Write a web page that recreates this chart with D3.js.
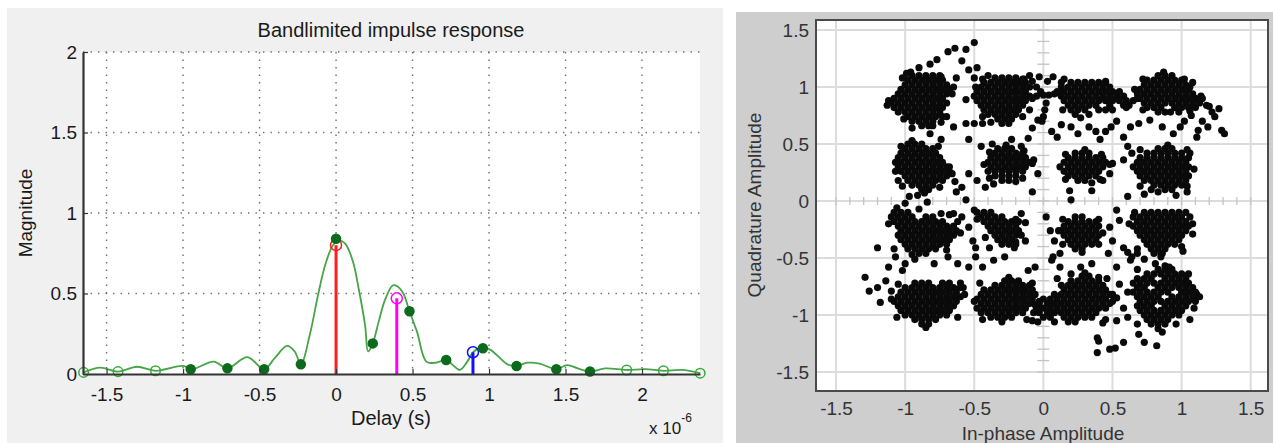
<!DOCTYPE html>
<html>
<head>
<meta charset="utf-8">
<script src="https://cdn.jsdelivr.net/npm/d3@7"></script>
<style>
  body { margin: 0; background: #fff; }
  text { font-family: "Liberation Sans", Arial, sans-serif; }
</style>
</head>
<body>
<div id="chart"></div>
<script>
// ---------- left chart data (delay in units of 1e-6 s) ----------
const curveDelay = [-1.65, -1.54, -1.425, -1.3, -1.18, -1.0, -0.94, -0.8, -0.71, -0.58, -0.47,
  -0.4, -0.32, -0.27, -0.23, -0.17, -0.12, -0.07, -0.02, 0.02, 0.06, 0.11, 0.15, 0.19, 0.21,
  0.24, 0.28, 0.32, 0.37, 0.4, 0.44, 0.48, 0.53, 0.59, 0.65, 0.72, 0.77, 0.81, 0.86, 0.9,
  0.96, 1.01, 1.07, 1.12, 1.18, 1.25, 1.33, 1.44, 1.51, 1.58, 1.66, 1.76, 1.9, 2.02, 2.14,
  2.26, 2.38];
const curveMag = [0.01, 0.04, 0.015, 0.045, 0.02, 0.05, 0.03, 0.077, 0.035, 0.105, 0.03,
  0.1, 0.175, 0.14, 0.06, 0.25, 0.48, 0.68, 0.8, 0.83, 0.81, 0.7, 0.52, 0.3, 0.14,
  0.19, 0.33, 0.46, 0.55, 0.545, 0.5, 0.39, 0.26, 0.077, 0.07, 0.087, 0.05, 0.025, 0.08, 0.14,
  0.165, 0.15, 0.1, 0.06, 0.05, 0.07, 0.065, 0.03, 0.055, 0.035, 0.015, 0.035, 0.025, 0.03, 0.02,
  0.025, 0.005];

// sampled taps on the curve
const sampleDelay = [-1.65, -1.425, -1.18, -0.95, -0.71, -0.47, -0.23, 0, 0.24, 0.48, 0.72,
  0.96, 1.18, 1.44, 1.66, 1.9, 2.14, 2.38];
const sampleMag = [0.01, 0.015, 0.02, 0.03, 0.035, 0.03, 0.06, 0.84, 0.19, 0.39, 0.087,
  0.16, 0.05, 0.03, 0.015, 0.025, 0.02, 0.005];
const sampleFilled = [false, false, false, true, true, true, true, true, true, true, true,
  true, true, true, true, false, false, false];

// multipath stems
const stemDelay = [0, 0.397, 0.895];
const stemMag = [0.8, 0.47, 0.135];

const magTicks = [0, 0.5, 1, 1.5, 2];
const delayTicks = [-1.5, -1, -0.5, 0, 0.5, 1, 1.5, 2];

// ---------- right chart data: constellation rows [quadrature, [in-phase...]] ----------
const clusterA = [[1.10, [-0.95, -0.90, -0.85, -0.80]], [1.06, [-0.98, -0.93, -0.88, -0.83, -0.78, -0.73]],
  [1.02, [-1.00, -0.95, -0.90, -0.85, -0.80, -0.75, -0.70]], [0.98, [-1.03, -0.98, -0.93, -0.88, -0.83, -0.78, -0.73, -0.68]],
  [0.94, [-1.05, -1.00, -0.95, -0.90, -0.85, -0.80, -0.75, -0.70]], [0.90, [-1.08, -1.03, -0.98, -0.93, -0.88, -0.83, -0.78, -0.73]],
  [0.86, [-1.10, -1.05, -1.00, -0.95, -0.90, -0.85, -0.80, -0.75, -0.70]], [0.82, [-1.08, -1.03, -0.98, -0.93, -0.88, -0.83, -0.78, -0.73]],
  [0.78, [-1.05, -1.00, -0.95, -0.90, -0.85, -0.80, -0.75]], [0.74, [-0.98, -0.93, -0.88, -0.83, -0.78, -0.73]],
  [0.70, [-0.95, -0.90, -0.85, -0.80]], [0.66, [-0.88, -0.83]]];
const clusterB = [[1.08, [-0.35, -0.30, -0.25, -0.20]], [1.04, [-0.43, -0.38, -0.33, -0.28, -0.23, -0.18, -0.13]],
  [1.00, [-0.45, -0.40, -0.35, -0.30, -0.25, -0.20, -0.15, -0.10]], [0.96, [-0.48, -0.43, -0.38, -0.33, -0.28, -0.23, -0.18, -0.13]],
  [0.92, [-0.45, -0.40, -0.35, -0.30, -0.25, -0.20, -0.15, -0.10]], [0.88, [-0.48, -0.43, -0.38, -0.33, -0.28, -0.23, -0.18, -0.13]],
  [0.84, [-0.45, -0.40, -0.35, -0.30, -0.25, -0.20, -0.15]], [0.80, [-0.43, -0.38, -0.33, -0.28, -0.23, -0.18]],
  [0.76, [-0.40, -0.35, -0.30, -0.25, -0.20]], [0.72, [-0.33, -0.28, -0.23]], [0.68, [-0.30, -0.25]]];
const clusterC = [[1.04, [0.20, 0.25, 0.30, 0.35, 0.40]], [1.00, [0.13, 0.18, 0.23, 0.28, 0.33, 0.38, 0.43, 0.48]],
  [0.96, [0.15, 0.20, 0.25, 0.30, 0.35, 0.40, 0.45, 0.50, 0.55]], [0.92, [0.13, 0.18, 0.23, 0.28, 0.33, 0.38, 0.43, 0.48, 0.53, 0.58]],
  [0.88, [0.15, 0.20, 0.25, 0.30, 0.35, 0.40, 0.45, 0.50, 0.55, 0.60, 0.65]], [0.84, [0.18, 0.23, 0.28, 0.33, 0.38, 0.48, 0.58]],
  [0.80, [0.20, 0.25, 0.30, 0.40, 0.50]], [0.76, [0.23, 0.33]]];
const clusterD = [[1.10, [0.83, 0.88, 0.93]], [1.06, [0.75, 0.80, 0.85, 0.90, 0.95, 1.00]],
  [1.02, [0.73, 0.78, 0.83, 0.88, 0.93, 0.98, 1.03]], [0.98, [0.70, 0.75, 0.80, 0.85, 0.90, 0.95, 1.00, 1.05]],
  [0.94, [0.68, 0.73, 0.78, 0.83, 0.88, 0.93, 0.98, 1.03, 1.08]], [0.90, [0.70, 0.75, 0.80, 0.85, 0.90, 0.95, 1.00, 1.05, 1.10]],
  [0.86, [0.73, 0.78, 0.83, 0.88, 0.93, 0.98, 1.03, 1.08, 1.13]], [0.82, [0.75, 0.80, 0.85, 0.95, 1.00, 1.05, 1.10]],
  [0.78, [0.83, 0.88, 0.98]]];
const clusterE = [[0.50, [-0.98, -0.93, -0.88]], [0.46, [-1.00, -0.95, -0.90, -0.85, -0.80]],
  [0.42, [-1.03, -0.98, -0.93, -0.88, -0.83, -0.78]], [0.38, [-1.05, -1.00, -0.95, -0.90, -0.85, -0.80, -0.75]],
  [0.34, [-1.03, -0.98, -0.93, -0.88, -0.83, -0.78, -0.73]], [0.30, [-1.05, -1.00, -0.95, -0.90, -0.85, -0.80, -0.75, -0.70]],
  [0.26, [-1.03, -0.98, -0.93, -0.88, -0.83, -0.78, -0.73, -0.68]], [0.22, [-1.00, -0.95, -0.90, -0.85, -0.80, -0.75, -0.70]],
  [0.18, [-0.98, -0.93, -0.88, -0.83, -0.78, -0.73]], [0.14, [-0.95, -0.90, -0.85, -0.80]], [0.10, [-0.88, -0.83]]];
const clusterF = [[0.46, [-0.33, -0.28, -0.23]], [0.42, [-0.35, -0.30, -0.25, -0.20, -0.15]],
  [0.38, [-0.38, -0.33, -0.28, -0.23, -0.18, -0.13]], [0.34, [-0.40, -0.35, -0.30, -0.25, -0.20, -0.15, -0.10]],
  [0.30, [-0.38, -0.33, -0.28, -0.23, -0.18, -0.13]], [0.26, [-0.40, -0.35, -0.30, -0.25, -0.20, -0.15]],
  [0.22, [-0.35, -0.30, -0.25, -0.20]], [0.18, [-0.30, -0.25]]];
const clusterG = [[0.42, [0.23, 0.28, 0.33]], [0.38, [0.18, 0.23, 0.28, 0.33, 0.38, 0.43]],
  [0.34, [0.15, 0.20, 0.25, 0.30, 0.35, 0.40, 0.45]], [0.30, [0.18, 0.23, 0.28, 0.33, 0.38, 0.43]],
  [0.26, [0.15, 0.20, 0.25, 0.30, 0.35, 0.40]], [0.22, [0.18, 0.23, 0.28, 0.33, 0.38]], [0.18, [0.25, 0.30]]];
const clusterH = [[0.46, [0.83, 0.88, 0.93]], [0.42, [0.75, 0.80, 0.85, 0.90, 0.95, 1.00]],
  [0.38, [0.70, 0.75, 0.80, 0.85, 0.90, 0.95, 1.00, 1.05]], [0.34, [0.68, 0.73, 0.78, 0.83, 0.88, 0.93, 0.98, 1.03]],
  [0.30, [0.70, 0.75, 0.80, 0.85, 0.90, 0.95, 1.00, 1.05]], [0.26, [0.68, 0.73, 0.78, 0.83, 0.88, 0.93, 0.98, 1.03]],
  [0.22, [0.70, 0.75, 0.80, 0.85, 0.90, 0.95, 1.00, 1.05]], [0.18, [0.73, 0.78, 0.83, 0.88, 0.93, 0.98, 1.03]],
  [0.14, [0.80, 0.85, 0.90, 0.95, 1.00]], [0.10, [0.88, 0.93]]];
const clusterI = [[-0.10, [-1.08, -1.03, -0.98]], [-0.14, [-1.10, -1.05, -1.00, -0.95, -0.85, -0.80]],
  [-0.18, [-1.08, -1.03, -0.98, -0.93, -0.88, -0.83, -0.78, -0.73]], [-0.22, [-1.05, -1.00, -0.95, -0.90, -0.85, -0.80, -0.75, -0.70, -0.65]],
  [-0.26, [-1.03, -0.98, -0.93, -0.88, -0.83, -0.78, -0.73, -0.68, -0.63]], [-0.30, [-1.05, -1.00, -0.95, -0.90, -0.85, -0.80, -0.75, -0.70, -0.65]],
  [-0.34, [-1.03, -0.98, -0.93, -0.88, -0.83, -0.78, -0.73, -0.68]], [-0.38, [-1.00, -0.95, -0.90, -0.85, -0.80, -0.75, -0.70]],
  [-0.42, [-0.98, -0.93, -0.88, -0.83, -0.78]], [-0.46, [-0.90, -0.85]]];
const clusterJ = [[-0.10, [-0.48, -0.43, -0.38]], [-0.14, [-0.45, -0.40, -0.35, -0.30]],
  [-0.18, [-0.43, -0.38, -0.33, -0.28, -0.23]], [-0.22, [-0.40, -0.35, -0.30, -0.25, -0.20]],
  [-0.26, [-0.38, -0.33, -0.28, -0.23, -0.18]], [-0.30, [-0.35, -0.30, -0.25, -0.20]],
  [-0.34, [-0.33, -0.28, -0.23]], [-0.38, [-0.30, -0.25]]];
const clusterK = [[-0.14, [0.23, 0.28]], [-0.18, [0.18, 0.23, 0.28, 0.33, 0.38]],
  [-0.22, [0.15, 0.20, 0.25, 0.30, 0.35, 0.40]], [-0.26, [0.13, 0.18, 0.23, 0.28, 0.33, 0.38]],
  [-0.30, [0.15, 0.20, 0.25, 0.30, 0.35, 0.40]], [-0.34, [0.18, 0.23, 0.28, 0.33, 0.38]],
  [-0.38, [0.20, 0.25, 0.30, 0.35]], [-0.42, [0.23, 0.28]]];
const clusterL = [[-0.10, [0.73, 0.78, 0.83, 0.88, 0.93]], [-0.14, [0.65, 0.70, 0.75, 0.80, 0.85, 0.90, 0.95, 1.00]],
  [-0.18, [0.68, 0.73, 0.78, 0.83, 0.88, 0.93, 0.98, 1.03]], [-0.22, [0.65, 0.70, 0.75, 0.80, 0.85, 0.90, 0.95, 1.00, 1.05]],
  [-0.26, [0.68, 0.73, 0.78, 0.83, 0.88, 0.93, 0.98, 1.03]], [-0.30, [0.70, 0.75, 0.80, 0.85, 0.90, 0.95, 1.00]],
  [-0.34, [0.73, 0.78, 0.83, 0.88, 0.93, 0.98]], [-0.38, [0.75, 0.80, 0.85, 0.90, 0.95]],
  [-0.42, [0.78, 0.83, 0.88]], [-0.46, [0.80, 0.85]]];
const clusterM = [[-0.72, [-0.93, -0.88, -0.83, -0.73, -0.68]], [-0.76, [-1.00, -0.95, -0.90, -0.85, -0.80, -0.75, -0.70, -0.65, -0.60]],
  [-0.80, [-1.03, -0.98, -0.93, -0.88, -0.83, -0.78, -0.73, -0.68, -0.63]], [-0.84, [-1.05, -1.00, -0.95, -0.90, -0.85, -0.80, -0.75, -0.70, -0.65, -0.60]],
  [-0.88, [-1.08, -1.03, -0.98, -0.93, -0.88, -0.83, -0.78, -0.73, -0.68, -0.63]], [-0.92, [-1.05, -1.00, -0.95, -0.90, -0.85, -0.80, -0.75, -0.70, -0.65]],
  [-0.96, [-1.03, -0.98, -0.93, -0.88, -0.83, -0.78, -0.73, -0.68]], [-1.00, [-1.00, -0.95, -0.90, -0.85, -0.80, -0.75, -0.70]],
  [-1.04, [-0.93, -0.88, -0.83, -0.78]], [-1.08, [-0.88, -0.83]]];
const clusterN = [[-0.70, [-0.28, -0.23, -0.18]], [-0.74, [-0.35, -0.30, -0.25, -0.20, -0.15, -0.10]],
  [-0.78, [-0.43, -0.38, -0.33, -0.28, -0.23, -0.18, -0.13, -0.08]], [-0.82, [-0.45, -0.40, -0.35, -0.30, -0.25, -0.20, -0.15, -0.10]],
  [-0.86, [-0.48, -0.43, -0.38, -0.33, -0.28, -0.23, -0.18, -0.13, -0.08]], [-0.90, [-0.45, -0.40, -0.35, -0.30, -0.25, -0.20, -0.15, -0.10]],
  [-0.94, [-0.48, -0.43, -0.38, -0.33, -0.28, -0.23, -0.18, -0.13]], [-0.98, [-0.45, -0.40, -0.35, -0.30, -0.25, -0.20, -0.15]],
  [-1.02, [-0.38, -0.33, -0.28, -0.23]], [-1.06, [-0.30]]];
const clusterO = [[-0.66, [0.28, 0.33]], [-0.70, [0.20, 0.25, 0.30, 0.35, 0.40]],
  [-0.74, [0.13, 0.18, 0.23, 0.28, 0.33, 0.38, 0.43]], [-0.78, [0.15, 0.20, 0.25, 0.30, 0.35, 0.40, 0.45]],
  [-0.82, [0.08, 0.13, 0.18, 0.23, 0.28, 0.33, 0.38, 0.43, 0.48]], [-0.86, [0.00, 0.05, 0.10, 0.15, 0.20, 0.25, 0.30, 0.35, 0.40, 0.45]],
  [-0.90, [-0.03, 0.03, 0.08, 0.13, 0.18, 0.23, 0.28, 0.33, 0.38, 0.43, 0.48]], [-0.94, [-0.05, 0.00, 0.05, 0.10, 0.15, 0.20, 0.25, 0.30, 0.35, 0.40, 0.45]],
  [-0.98, [-0.03, 0.03, 0.08, 0.13, 0.18, 0.23, 0.28, 0.33, 0.38]], [-1.02, [0.00, 0.05, 0.15, 0.20, 0.25, 0.30, 0.35]],
  [-1.06, [0.08, 0.18, 0.23]]];
const clusterP = [[-0.60, [0.83, 0.88, 0.93]], [-0.64, [0.75, 0.80, 0.85, 0.90, 0.95, 1.00]],
  [-0.68, [0.68, 0.73, 0.78, 0.88, 0.93, 0.98, 1.03]], [-0.72, [0.65, 0.70, 0.75, 0.80, 0.85, 0.90, 0.95, 1.00, 1.05]],
  [-0.76, [0.68, 0.73, 0.83, 0.88, 0.93, 0.98, 1.03, 1.08]], [-0.80, [0.65, 0.70, 0.75, 0.80, 0.85, 0.90, 1.00, 1.05, 1.10]],
  [-0.84, [0.68, 0.73, 0.78, 0.83, 0.93, 0.98, 1.03, 1.08]], [-0.88, [0.70, 0.75, 0.80, 0.85, 0.90, 0.95, 1.00, 1.05, 1.10]],
  [-0.92, [0.68, 0.73, 0.78, 0.88, 0.93, 0.98, 1.03]], [-0.96, [0.70, 0.75, 0.80, 0.85, 0.90, 0.95, 1.00]],
  [-1.00, [0.73, 0.78, 0.83, 0.88, 0.93, 0.98]], [-1.04, [0.75, 0.80, 0.85, 0.90]],
  [-1.08, [0.78, 0.83, 0.88]], [-1.12, [0.83]]];

// ragged symbols on the cluster edges [in-phase, quadrature]
const clusterFringe = [[-1.13, 0.84], [-1.12, 0.88], [-0.66, 0.94], [-0.65, 1.0], [-0.99, 1.12], [-0.75, 1.1],
  [-0.7, 0.74], [-0.5, 0.92], [-0.49, 1.0], [-0.08, 0.9], [-0.1, 0.8], [-0.4, 1.1], [-0.15, 1.07],
  [0.1, 0.96], [0.15, 1.07], [0.45, 1.04], [0.68, 0.9], [0.62, 0.84], [0.27, 0.73], [0.87, 1.13],
  [0.66, 0.98], [1.15, 0.9], [1.06, 1.0], [0.92, 0.78], [-1.07, 0.34], [-1.07, 0.26], [-0.68, 0.3],
  [-0.66, 0.24], [-0.95, 0.53], [-0.86, 0.07], [-0.43, 0.32], [-0.08, 0.33], [-0.27, 0.49], [-0.2, 0.17],
  [0.12, 0.3], [0.48, 0.32], [0.3, 0.45], [0.35, 0.16], [0.65, 0.3], [1.09, 0.28], [0.9, 0.49],
  [0.78, 0.1], [-1.12, -0.2], [-0.6, -0.28], [-0.95, -0.47], [-1.06, -0.06], [-0.5, -0.08], [-0.16, -0.3],
  [-0.2, -0.36], [0.11, -0.26], [0.43, -0.28], [0.28, -0.45], [0.62, -0.2], [1.08, -0.2], [0.98, -0.1],
  [0.85, -0.49], [-1.1, -0.86], [-0.57, -0.82], [-0.58, -0.76], [-0.85, -1.11], [-0.5, -0.88],
  [-0.06, -0.82], [-0.25, -0.67], [0.5, -0.88], [0.5, -0.82], [-0.07, -0.98], [0.3, -0.63],
  [1.13, -0.84], [0.61, -0.8], [0.86, -1.15], [0.88, -0.57]];

// fuller shoulders of each cluster [in-phase, quadrature]
const clusterShoulders = [[-1.02, 1.08], [-0.74, 1.09], [-1.01, 0.72], [-0.74, 0.69], [-0.96, 1.13], [-0.8, 0.66],
  [-0.44, 1.07], [-0.14, 1.07], [-0.44, 0.74], [-0.15, 0.74], [-0.38, 0.69],
  [0.13, 1.04], [0.45, 1.05], [0.14, 0.80], [0.45, 0.80], [0.6, 0.82],
  [0.72, 1.07], [1.02, 1.07], [0.72, 0.8], [1.06, 0.79],
  [-1.03, 0.48], [-0.76, 0.48], [-1.02, 0.13], [-0.75, 0.12],
  [-0.39, 0.43], [-0.14, 0.44], [-0.39, 0.2], [-0.15, 0.2],
  [0.16, 0.41], [0.42, 0.41], [0.16, 0.19], [0.41, 0.19],
  [0.70, 0.45], [1.04, 0.45], [0.70, 0.13], [1.04, 0.13],
  [-1.08, -0.42], [-0.7, -0.43], [-0.68, -0.12], [-0.62, -0.18],
  [-0.48, -0.16], [-0.18, -0.18], [-0.42, -0.32], [-0.2, -0.38],
  [0.14, -0.16], [0.40, -0.16], [0.14, -0.38], [0.40, -0.38],
  [0.66, -0.1], [1.03, -0.1], [0.68, -0.42], [1.0, -0.4],
  [-1.05, -0.73], [-1.06, -1.02], [-0.62, -1.02], [-0.6, -0.72],
  [-0.46, -0.72], [-0.44, -1.04], [-0.12, -1.04], [-0.08, -0.72],
  [0.1, -0.68], [0.46, -0.68], [0.45, -1.04], [-0.04, -1.06],
  [0.68, -0.6], [1.05, -0.64], [0.68, -1.08], [1.06, -1.04]];

// isolated symbols between the clusters [in-phase, quadrature]
const strayUpper = [[-0.69, 1.31], [-0.64, 1.34], [-0.56, 1.33], [-0.50, 1.39], [-0.77, 1.24], [-0.90, 1.17],
  [-0.82, 1.20], [-0.59, 1.23], [-0.54, 1.15], [-0.48, 1.17], [-0.50, 1.08], [-0.56, 0.89], [-0.63, 1.08],
  [-0.68, 0.98], [-0.95, 0.64], [-0.82, 0.59], [-0.74, 0.54], [-0.65, 0.65], [-0.56, 0.68], [-0.50, 0.68],
  [-0.44, 0.68], [-0.54, 0.54], [-0.45, 0.48], [-0.37, 0.50], [-0.23, 0.54], [-0.16, 0.48], [-0.11, 0.55],
  [-0.08, 0.64], [-0.04, 0.71], [0.01, 0.80], [0.03, 1.05], [0.07, 1.09], [-0.03, 1.09], [0.02, 0.86],
  [0.06, 0.61], [0.10, 0.56], [0.13, 0.67], [0.20, 0.65], [0.25, 0.59], [0.33, 0.65], [0.38, 0.61],
  [0.41, 0.54], [0.45, 0.61], [0.49, 0.65], [0.53, 0.70], [0.58, 0.56], [0.61, 0.48], [0.64, 0.42],
  [0.63, 0.65], [0.69, 0.68], [0.77, 0.71], [0.86, 0.65], [0.94, 0.59], [0.99, 0.65], [1.11, 0.56],
  [1.19, 0.65], [1.24, 0.74], [1.29, 0.62], [1.31, 0.59], [1.20, 0.83], [1.27, 0.81], [1.14, 0.92],
  [1.08, 1.04], [1.18, 0.84], [1.22, 0.78], [1.15, 0.70], [1.12, 0.62], [1.07, 0.75], [1.02, 0.70],
  [-0.05, 0.92], [0.00, 0.93], [0.04, 0.93], [0.08, 0.94], [0.11, 0.95], [0.00, 0.74], [-0.01, 0.70],
  [-0.08, 1.05], [-0.05, 1.00], [-0.02, 0.96], [-0.10, 1.10]];
const strayMiddle = [[-1.05, 0.18], [-0.97, 0.04], [-0.91, 0.05], [-0.64, 0.17], [-0.59, 0.12], [-0.54, 0.24],
  [-0.48, 0.18], [-0.42, 0.12], [-0.36, 0.15], [-0.56, 0.01], [-0.63, 0.08], [-1.00, -0.02], [-0.90, -0.07],
  [-0.84, -0.01], [-0.74, -0.11], [-0.65, -0.11], [-0.59, -0.14], [-0.54, -0.23], [-0.51, -0.35],
  [-0.49, -0.41], [-0.39, -0.41], [-0.20, -0.16], [-0.16, -0.11], [-0.13, -0.19], [-0.08, 0.08],
  [-0.04, 0.24], [-0.07, 0.36], [0.02, -0.14], [0.05, -0.26], [0.08, -0.35], [0.12, -0.46], [0.07, -0.49],
  [0.19, 0.09], [0.20, 0.01], [0.35, 0.09], [0.43, 0.18], [0.48, 0.24], [0.50, 0.33], [0.58, 0.36],
  [0.61, 0.04], [0.53, -0.08], [0.48, -0.23], [0.50, -0.35], [0.55, -0.17], [0.47, -0.46], [0.58, -0.41],
  [0.63, -0.52], [0.73, 0.06], [0.83, 0.08], [0.96, 0.05], [1.04, 0.08], [1.06, 0.42], [1.06, -0.14],
  [1.08, -0.29], [1.01, -0.44], [0.86, -0.46], [0.61, -0.45], [0.64, -0.49]];
const strayLower = [[-1.20, -0.41], [-1.07, -0.49], [-1.00, -0.55], [-0.93, -0.51], [-1.02, -0.61], [-1.12, -0.58],
  [-1.29, -0.67], [-1.26, -0.79], [-1.18, -0.89], [-1.20, -0.76], [-1.14, -0.70], [-1.10, -0.79],
  [-0.79, -0.55], [-0.69, -0.49], [-0.62, -0.55], [-0.54, -0.58], [-0.49, -0.49], [-0.44, -0.58],
  [-0.36, -0.52], [-0.28, -0.49], [-0.21, -0.41], [-0.13, -0.35], [-0.11, -0.61], [-0.06, -0.58],
  [0.06, -0.52], [0.12, -0.58], [0.20, -0.64], [0.27, -0.58], [0.35, -0.55], [0.40, -0.67], [0.53, -0.58],
  [0.55, -0.73], [0.53, -0.85], [0.58, -0.94], [0.61, -1.02], [0.53, -1.05], [0.43, -1.07], [0.39, -1.20],
  [0.39, -1.33], [0.40, -1.23], [0.48, -1.30], [0.52, -1.29], [0.58, -1.24], [0.69, -1.17], [0.73, -1.24],
  [0.82, -1.27], [0.96, -1.08], [1.09, -0.94], [1.11, -0.82], [0.68, -0.46], [0.73, -0.51], [0.81, -0.55],
  [0.91, -0.58], [-0.08, -1.05], [-0.06, -0.91], [-0.03, -0.88]];

const iqTicks = [-1.5, -1, -0.5, 0, 0.5, 1, 1.5];

// ---------- frame ----------
let svg = d3
  .select("#chart")
  .append("svg")
  .attr("width", 1273)
  .attr("height", 443);

// panel backgrounds
svg.append("rect").attr("x", 7).attr("y", 8).attr("width", 716).attr("height", 435).attr("fill", "#f0f0f0");
svg.append("rect").attr("x", 736).attr("y", 12).attr("width", 537).attr("height", 431).attr("fill", "#cecece");

// ================= left: impulse response =================
let xScale = d3.scaleLinear().domain([-1.654, 2.379]).range([83, 700]),
  yScale = d3.scaleLinear().domain([0, 2]).range([374, 52]);

svg.append("rect").attr("x", 83).attr("y", 52).attr("width", 617).attr("height", 322).attr("fill", "#fff");

// dotted grid
let grid = svg.append("g").attr("stroke", "#6e6e6e").attr("stroke-width", 1.4).attr("stroke-dasharray", "1.4,6.1");
grid.selectAll("line.v")
  .data(delayTicks)
  .enter()
  .append("line")
  .attr("x1", (d) => xScale(d))
  .attr("x2", (d) => xScale(d))
  .attr("y1", yScale(2))
  .attr("y2", yScale(0));
grid.selectAll("line.h")
  .data(magTicks.filter((d) => d > 0))
  .enter()
  .append("line")
  .attr("x1", xScale.range()[0])
  .attr("x2", xScale.range()[1])
  .attr("y1", (d) => yScale(d))
  .attr("y2", (d) => yScale(d));

// interpolated response
let line = d3
  .line()
  .x((d) => xScale(d[0]))
  .y((d) => yScale(d[1]))
  .curve(d3.curveCatmullRom);
svg.append("path")
  .datum(curveDelay.map((d, i) => [d, curveMag[i]]))
  .attr("d", line)
  .attr("fill", "none")
  .attr("stroke", "#46a546")
  .attr("stroke-width", 1.8);

// stems
const stemColors = ["#ff1e1e", "#ff00ff", "#1010ff"];
let stems = svg.append("g");
stemDelay.forEach(function (d, i) {
  stems.append("line")
    .attr("x1", xScale(d)).attr("x2", xScale(d))
    .attr("y1", yScale(0)).attr("y2", yScale(stemMag[i]))
    .attr("stroke", stemColors[i])
    .attr("stroke-width", 3);
  stems.append("circle")
    .attr("cx", xScale(d)).attr("cy", yScale(stemMag[i]))
    .attr("r", 5.5)
    .attr("fill", "none")
    .attr("stroke", stemColors[i])
    .attr("stroke-width", 1.5);
});

// sample markers
svg.append("g")
  .selectAll("circle")
  .data(sampleDelay.map((d, i) => [d, sampleMag[i], sampleFilled[i]]))
  .enter()
  .append("circle")
  .attr("cx", (d) => xScale(d[0]))
  .attr("cy", (d) => yScale(d[1]))
  .attr("r", (d) => (d[2] ? 4.5 : 4.8))
  .attr("fill", (d) => (d[2] ? "#0c6a1c" : "none"))
  .attr("stroke", (d) => (d[2] ? "#0c6a1c" : "#3aaa3a"))
  .attr("stroke-width", 1.5);

// axes
let xAxis = svg.append("g")
  .attr("transform", "translate(0," + yScale(0) + ")")
  .call(d3.axisBottom(xScale).tickValues(delayTicks).tickSizeInner(-5).tickSizeOuter(0).tickPadding(14).tickFormat((d) => String(d)));
let yAxis = svg.append("g")
  .attr("transform", "translate(" + xScale.range()[0] + ",0)")
  .call(d3.axisLeft(yScale).tickValues(magTicks).tickSizeInner(-5).tickSizeOuter(0).tickPadding(6).tickFormat((d) => String(d)));
[xAxis, yAxis].forEach(function (a) {
  a.select(".domain").attr("stroke", "#333").attr("stroke-width", 2.2);
  a.selectAll(".tick line").attr("stroke", "#333").attr("stroke-width", 1.2);
  a.selectAll("text").attr("font-size", 19).attr("font-family", "Liberation Sans, Arial, sans-serif").attr("fill", "#1a1a1a");
});

// labels
svg.append("text").attr("x", 391).attr("y", 37).attr("text-anchor", "middle").attr("font-size", 20).attr("fill", "#1a1a1a")
  .text("Bandlimited impulse response");
svg.append("text").attr("x", 391).attr("y", 425).attr("text-anchor", "middle").attr("font-size", 20).attr("fill", "#1a1a1a")
  .text("Delay (s)");
svg.append("text").attr("transform", "translate(32,213) rotate(-90)").attr("text-anchor", "middle").attr("font-size", 19)
  .attr("fill", "#1a1a1a").text("Magnitude");
let expo = svg.append("text").attr("x", 649).attr("y", 434).attr("font-size", 17).attr("fill", "#1a1a1a");
expo.append("tspan").text("x 10");
expo.append("tspan").attr("dy", -12).attr("font-size", 12).text("-6");

// ================= right: constellation =================
let iqX = d3.scaleLinear().domain([-1.645, 1.625]).range([816, 1268]),
  iqY = d3.scaleLinear().domain([-1.667, 1.588]).range([391, 20]);

svg.append("rect").attr("x", 816).attr("y", 20).attr("width", 452).attr("height", 371).attr("fill", "#fff");

// grid
let iqGrid = svg.append("g").attr("stroke", "#dcdcdc").attr("stroke-width", 2);
iqGrid.selectAll("line.v").data(iqTicks).enter().append("line")
  .attr("x1", (d) => iqX(d)).attr("x2", (d) => iqX(d)).attr("y1", 20).attr("y2", 391);
iqGrid.selectAll("line.h").data(iqTicks).enter().append("line")
  .attr("x1", 816).attr("x2", 1268).attr("y1", (d) => iqY(d)).attr("y2", (d) => iqY(d));

// minor ticks along the centre cross
const minor = d3.range(-15, 16).map((i) => i / 10);
let cross = svg.append("g").attr("stroke", "#c4c4c4").attr("stroke-width", 1.3);
cross.selectAll("line.mx").data(minor).enter().append("line")
  .attr("x1", (d) => iqX(d)).attr("x2", (d) => iqX(d)).attr("y1", iqY(0) - 4).attr("y2", iqY(0) + 4);
cross.selectAll("line.my").data(minor).enter().append("line")
  .attr("x1", iqX(0) - 6).attr("x2", iqX(0) + 6).attr("y1", (d) => iqY(d)).attr("y2", (d) => iqY(d));

// symbols
function rowsToPoints(rows) {
  return rows.flatMap((r) => r[1].map((x) => [x, r[0]]));
}
let symbols = [clusterA, clusterB, clusterC, clusterD, clusterE, clusterF, clusterG, clusterH,
  clusterI, clusterJ, clusterK, clusterL, clusterM, clusterN, clusterO, clusterP]
  .flatMap(rowsToPoints)
  .concat(clusterFringe, clusterShoulders, strayUpper, strayMiddle, strayLower);

svg.append("g")
  .selectAll("circle")
  .data(symbols)
  .enter()
  .append("circle")
  .attr("cx", (d) => iqX(d[0]))
  .attr("cy", (d) => iqY(d[1]))
  .attr("r", 3.6)
  .attr("fill", "#0a0a0a");

// box
svg.append("rect").attr("x", 816).attr("y", 20).attr("width", 452).attr("height", 371)
  .attr("fill", "none").attr("stroke", "#4a4a4a").attr("stroke-width", 2);

// tick labels
let iqXAxis = svg.append("g").attr("transform", "translate(0,391)")
  .call(d3.axisBottom(iqX).tickValues(iqTicks).tickSize(0).tickPadding(11).tickFormat((d) => String(d)));
let iqYAxis = svg.append("g").attr("transform", "translate(816,0)")
  .call(d3.axisLeft(iqY).tickValues(iqTicks).tickSize(0).tickPadding(7).tickFormat((d) => String(d)));
[iqXAxis, iqYAxis].forEach(function (a) {
  a.select(".domain").remove();
  a.selectAll("text").attr("font-size", 19).attr("font-family", "Liberation Sans, Arial, sans-serif").attr("fill", "#333");
});

svg.append("text").attr("x", 1043).attr("y", 440).attr("text-anchor", "middle").attr("font-size", 19).attr("fill", "#333")
  .text("In-phase Amplitude");
svg.append("text").attr("transform", "translate(761,205) rotate(-90)").attr("text-anchor", "middle").attr("font-size", 19)
  .attr("fill", "#333").text("Quadrature Amplitude");
</script>
</body>
</html>
